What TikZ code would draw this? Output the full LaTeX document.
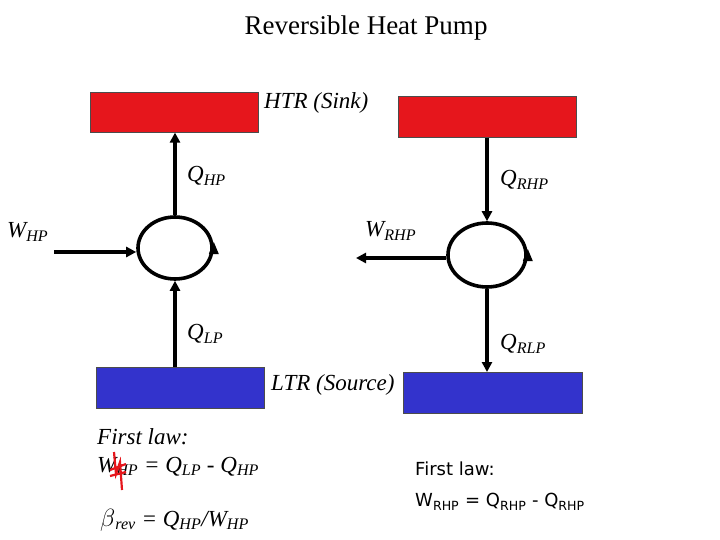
\documentclass[tikz,border=0pt]{standalone}
\usepackage{fontspec}
\setmainfont{Liberation Serif}
\newfontfamily\dvs{DejaVu Sans}
\usetikzlibrary{arrows.meta,shapes.geometric}
\definecolor{hred}{RGB}{230,22,28}
\definecolor{lblue}{RGB}{51,51,204}
\begin{document}
\begin{tikzpicture}[x=1pt,y=-1pt,
  res/.style={draw=black!70,line width=0.6pt,anchor=north west,inner sep=0},
  fl/.style={line width=3.6pt,-{Triangle[length=10pt,width=10pt]}},
  lb/.style={font=\fontsize{23}{28}\selectfont\itshape,inner sep=0,anchor=west}]
\useasboundingbox (0,0) rectangle (720,540);
\node[anchor=center] (title) at (366,28) {\fontsize{27}{30}\selectfont Reversible Heat Pump};
\node[res,fill=hred,minimum width=168,minimum height=40] (h1) at (90,92) {};
\node[res,fill=hred,minimum width=178,minimum height=41] (h2) at (398,96) {};
\node[res,fill=lblue,minimum width=168,minimum height=41] (c1) at (96,367) {};
\node[res,fill=lblue,minimum width=179,minimum height=41] (c2) at (403,372) {};
\node[lb] (htr) at (264,103) {HTR (Sink)};
\node[lb] (ltr) at (271,385) {LTR (Source)};
\node[draw,line width=3.6pt,ellipse,minimum width=74,minimum height=62,inner sep=0] (e1) at (175,248) {};
\node[draw,line width=3.6pt,ellipse,minimum width=78,minimum height=64,inner sep=0] (e2) at (487,255) {};
\coordinate (w1) at (54,252);
\coordinate (w2) at (356,258);
\draw[fl] (e1.north) -- (e1.north |- h1.south);
\draw[fl] (e1.south |- c1.north) -- (e1.south);
\draw[fl] (w1) -- (e1.west |- w1);
\draw[fl] (e2.north |- h2.south) -- (e2.north);
\draw[fl] (e2.south) -- (e2.south |- c2.north);
\draw[fl] (e2.west |- w2) -- (w2);
\fill (e1.east)++(-5,6) -- ++(10,0) -- ++(-5,-12) -- cycle;
\fill (e2.east)++(-5,6) -- ++(10,0) -- ++(-5,-12) -- cycle;
\node[lb] (qhp) at (187,176) {Q\textsubscript{HP}};
\node[lb] (qrhp) at (500,180) {Q\textsubscript{RHP}};
\node[lb] (whp) at (7,232) {W\textsubscript{HP}};
\node[lb] (wrhp) at (365,231) {W\textsubscript{RHP}};
\node[lb] (qlp) at (187,334) {Q\textsubscript{LP}};
\node[lb] (qrlp) at (500,344) {Q\textsubscript{RLP}};
\node[lb,align=left,anchor=north west] (fl1) at (97,428) {First law:\\W\textsubscript{HP} = Q\textsubscript{LP} - Q\textsubscript{HP}};
\draw[hred,line width=2.2pt] (114,452) -- (116,474) -- (120,462) -- (122,490) (110,470) -- (126,464) (110,476) -- (126,472);
\node[lb] (beta) at (100,520) {$\beta$\textsubscript{rev} = Q\textsubscript{HP}/W\textsubscript{HP}};
\node[anchor=north west,inner sep=0,align=left,font=\dvs\fontsize{18}{31}\selectfont] (fl2) at (415,462) {First law:\\W\textsubscript{RHP} = Q\textsubscript{RHP} - Q\textsubscript{RHP}};
\end{tikzpicture}
\end{document}
